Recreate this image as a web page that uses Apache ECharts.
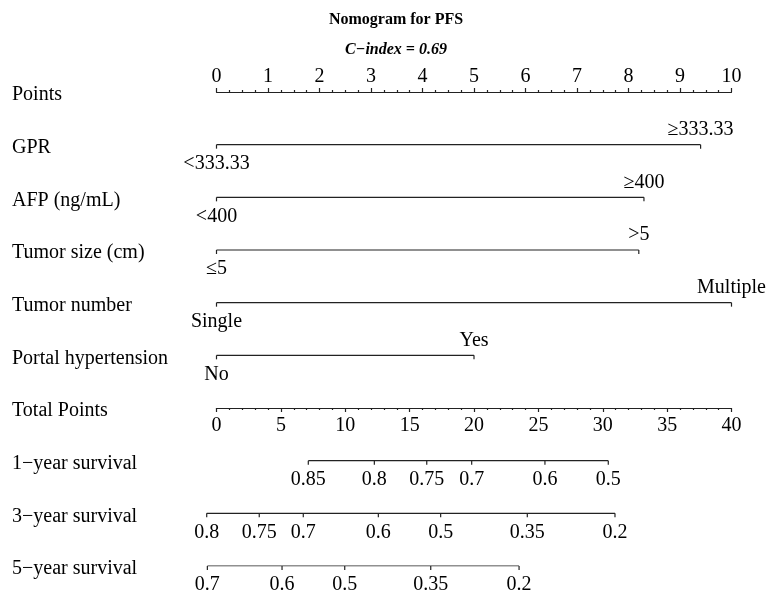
<!DOCTYPE html>
<html>
<head>
<meta charset="utf-8">
<script src="https://cdn.jsdelivr.net/npm/echarts@6/dist/echarts.min.js"></script>
<style>
  html, body { margin: 0; padding: 0; background: #fff; }
  #chart { width: 769px; height: 591px; }
</style>
</head>
<body>
<div id="chart"></div>
<script>
// Row names, top to bottom
const rowNames = [
  'Points', 'GPR', 'AFP (ng/mL)', 'Tumor size (cm)', 'Tumor number',
  'Portal hypertension', 'Total Points',
  '1\u2212year survival', '3\u2212year survival', '5\u2212year survival'
];

// Predictor levels and the points each level contributes
const gprLevels = ['<333.33', '\u2265333.33'];
const gprPoints = [0, 9.4];
const afpLevels = ['<400', '\u2265400'];
const afpPoints = [0, 8.3];
const sizeLevels = ['\u22645', '>5'];
const sizePoints = [0, 8.2];
const numberLevels = ['Single', 'Multiple'];
const numberPoints = [0, 10];
const portalLevels = ['No', 'Yes'];
const portalPoints = [0, 5];

// Survival probability scales, placed on the total-points scale
const surv1Labels = ['0.85', '0.8', '0.75', '0.7', '0.6', '0.5'];
const surv1Total = [7.13, 12.26, 16.33, 19.82, 25.51, 30.43];
const surv3Labels = ['0.8', '0.75', '0.7', '0.6', '0.5', '0.35', '0.2'];
const surv3Total = [-0.76, 3.32, 6.74, 12.57, 17.41, 24.14, 30.95];
const surv5Labels = ['0.7', '0.6', '0.5', '0.35', '0.2'];
const surv5Total = [-0.71, 5.09, 9.96, 16.64, 23.50];

// Scale ranges
const pointsRange = [0, 10];
const totalRange = [0, 40];

const FONT = '"Liberation Serif", "Times New Roman", serif';
const LINE = '#222';
const TEXT = '#000';
const LW = 1.2;

// Baseline of one row
function baseLine(xAxisIndex, row, xs) {
  return {
    type: 'line', xAxisIndex: xAxisIndex, yAxisIndex: 0,
    data: [[xs[0], row], [xs[xs.length - 1], row]],
    symbol: 'none', clip: false, silent: true, animation: false,
    lineStyle: { color: LINE, width: LW }
  };
}

// Tick marks with their labels; sides gives 'above' or 'below' per label
function tickMarks(xAxisIndex, row, xs, labels, sides) {
  return {
    type: 'custom', xAxisIndex: xAxisIndex, yAxisIndex: 0,
    clip: false, silent: true, animation: false,
    data: xs.map(function (x) { return [x, row]; }),
    renderItem: function (params, api) {
      const p = api.coord([api.value(0), api.value(1)]);
      const i = params.dataIndex;
      const side = sides[i];
      const ly = side === 'above' ? p[1] - 15 : p[1] + 19;
      return {
        type: 'group',
        children: [
          {
            type: 'line',
            shape: { x1: p[0], y1: p[1], x2: p[0], y2: p[1] + 4 },
            style: { stroke: LINE, lineWidth: LW }
          },
          {
            type: 'text',
            style: {
              text: labels[i], x: p[0], y: ly,
              align: 'center', verticalAlign: 'middle',
              font: '20px ' + FONT, fill: TEXT
            }
          }
        ]
      };
    }
  };
}

function levelRow(row, pts, levels) {
  return [
    baseLine(0, row, pts),
    tickMarks(0, row, pts, levels, ['below', 'above'])
  ];
}

function survRow(row, totals, labels) {
  return [
    baseLine(1, row, totals),
    tickMarks(1, row, totals, labels, labels.map(function () { return 'below'; }))
  ];
}

const chart = echarts.init(document.getElementById('chart'), null, { renderer: 'canvas' });

const axisCommon = {
  type: 'value',
  axisLine: { show: true, onZero: false, lineStyle: { color: LINE, width: LW } },
  axisTick: { show: true, length: 4, lineStyle: { color: LINE, width: LW } },
  minorTick: { show: true, length: 2, lineStyle: { color: LINE, width: LW } },
  splitLine: { show: false },
  minorSplitLine: { show: false },
  axisLabel: { fontFamily: FONT, fontSize: 20, color: TEXT, margin: 5 }
};

chart.setOption({
  animation: false,
  backgroundColor: '#fff',
  title: [
    {
      text: 'Nomogram for PFS', left: 391, top: 7, textAlign: 'center',
      textStyle: { fontFamily: FONT, fontSize: 16, fontWeight: 'bold', color: TEXT }
    },
    {
      text: 'C\u2212index = 0.69', left: 391, top: 37, textAlign: 'center',
      textStyle: { fontFamily: FONT, fontSize: 16, fontWeight: 'bold', fontStyle: 'italic', color: TEXT }
    }
  ],
  grid: {
    left: 216.5, right: 37.5, top: 92, bottom: 25,
    containLabel: false, outerBoundsMode: 'none'
  },
  xAxis: [
    Object.assign({}, axisCommon, {
      position: 'top',
      min: pointsRange[0], max: pointsRange[1], interval: 1,
      minorTick: Object.assign({}, axisCommon.minorTick, { splitNumber: 4 })
    }),
    Object.assign({}, axisCommon, {
      position: 'bottom', offset: -158,
      min: totalRange[0], max: totalRange[1], interval: 5,
      minorTick: Object.assign({}, axisCommon.minorTick, { splitNumber: 5 }),
      axisLabel: Object.assign({}, axisCommon.axisLabel, { margin: 8 })
    })
  ],
  yAxis: {
    type: 'category', inverse: true, boundaryGap: false,
    data: rowNames,
    axisLine: { show: false }, axisTick: { show: false }, splitLine: { show: false },
    axisLabel: {
      align: 'left', margin: 204.5, interval: 0,
      formatter: function (v) { return '{row|' + v + '}'; },
      rich: {
        row: {
          fontFamily: FONT, fontSize: 20, color: TEXT,
          padding: [6, 0, 0, 0]
        }
      }
    }
  },
  series: [].concat(
    levelRow(1, gprPoints, gprLevels),
    levelRow(2, afpPoints, afpLevels),
    levelRow(3, sizePoints, sizeLevels),
    levelRow(4, numberPoints, numberLevels),
    levelRow(5, portalPoints, portalLevels),
    survRow(7, surv1Total, surv1Labels),
    survRow(8, surv3Total, surv3Labels),
    survRow(9, surv5Total, surv5Labels)
  )
});
</script>
</body>
</html>
